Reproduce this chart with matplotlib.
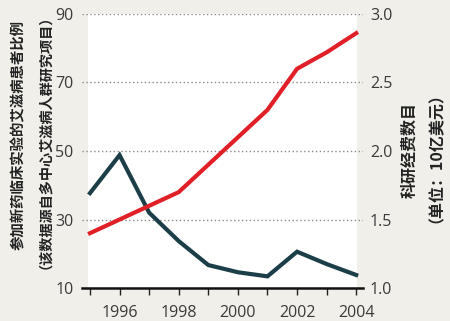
import matplotlib
matplotlib.use("Agg")
import matplotlib.pyplot as plt

years = [1995, 1996, 1997, 1998, 1999, 2000, 2001, 2002, 2003, 2004]
patient_pct = [37.7, 48.8, 32.0, 23.7, 16.7, 14.6, 13.4, 20.6, 17.0, 13.8]
funding_bn = [1.40, 1.50, 1.60, 1.70, 1.90, 2.10, 2.30, 2.60, 2.72, 2.86]

left_ticks = [10, 30, 50, 70, 90]
right_ticks = [1.0, 1.5, 2.0, 2.5, 3.0]
year_labels = [1996, 1998, 2000, 2002, 2004]

BG = "#f0efe9"
TEAL = "#1b3e48"
RED = "#e01f26"
TXT = "#3a3a3a"
NUM_FONT = ["Open Sans", "DejaVu Sans"]
CJK_FONT = ["Noto Sans CJK SC", "DejaVu Sans"]

fig = plt.figure(figsize=(4.5, 3.21), dpi=100, facecolor=BG)
W, H = 450, 321
ax = fig.add_axes([82 / W, 33 / H, 281 / W, 274 / H])
ax.set_facecolor(BG)
ax.set_xlim(1994.73, 2004.23)
ax.set_ylim(10, 90)

# white plotting panel
ax.axvspan(1994.93, 2004.03, color="white", zorder=0, lw=0)

ax.plot(years, patient_pct, color=TEAL, lw=3.0, solid_joinstyle="miter", zorder=3)

ax.set_yticks(left_ticks)
ax.set_yticklabels([str(t) for t in left_ticks], family=NUM_FONT, fontsize=11.5, color=TXT)
ax.yaxis.grid(True, color="#8a8a8a", linestyle=(0, (1, 1.8)), lw=1.0)
ax.set_axisbelow(True)
ax.tick_params(axis="y", length=0, pad=6)

ax.set_xticks(years, minor=True)
ax.set_xticks(year_labels)
ax.set_xticklabels([str(y) for y in year_labels], family=NUM_FONT, fontsize=11.5, color=TXT)
ax.tick_params(axis="x", which="both", direction="out", length=5, width=1, color="#222", pad=7)

for s in ["top", "left", "right"]:
    ax.spines[s].set_visible(False)
ax.spines["bottom"].set_color("#111")
ax.spines["bottom"].set_linewidth(1.8)

ax2 = ax.twinx()
ax2.set_ylim(1.0, 3.0)
ax2.plot(years, funding_bn, color=RED, lw=3.0, solid_joinstyle="miter", zorder=3)
ax2.set_yticks(right_ticks)
ax2.set_yticklabels([f"{t:.1f}" for t in right_ticks], family=NUM_FONT, fontsize=11.5, color=TXT)
ax2.tick_params(axis="y", length=0, pad=5)
for s in ax2.spines.values():
    s.set_visible(False)

ycen = (H - 135) / H
fig.text(19 / W, ycen, "参加新药临床实验的艾滋病患者比例", rotation=90,
         ha="center", va="center", family=CJK_FONT, fontsize=10.4,
         fontweight="bold", color="#222")
fig.text(38 / W, ycen, "（该数据源自多中心艾滋病人群研究项目）", rotation=90,
         ha="center", va="center", family=CJK_FONT, fontsize=10.2,
         fontweight="bold", color="#222")

ycen_r = (H - 150) / H
fig.text(409 / W, ycen_r, "科研经费数目", rotation=90,
         ha="center", va="center", family=CJK_FONT, fontsize=11.5,
         fontweight="bold", color="#222")
fig.text(428 / W, ycen_r, "（单位：10亿美元）", rotation=90,
         ha="center", va="center", family=CJK_FONT, fontsize=11.5,
         fontweight="bold", color="#222")

fig.savefig("out.png", dpi=100, facecolor=BG)
